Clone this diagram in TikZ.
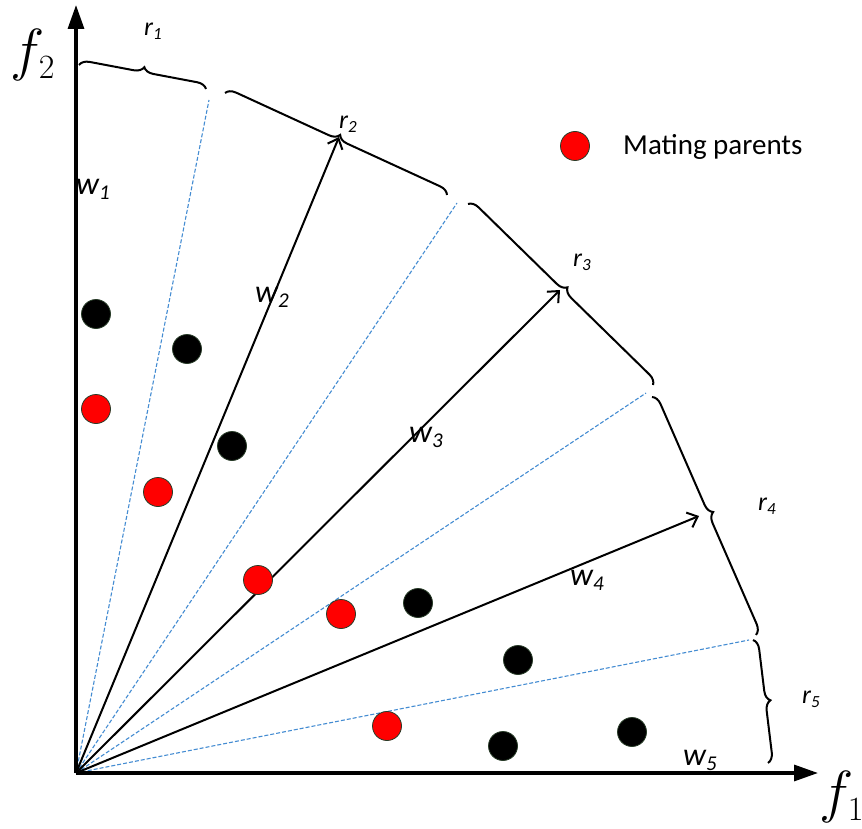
\documentclass[tikz,border=0pt]{standalone}
\usepackage{fix-cm}
\usepackage{fontspec}
\newfontfamily\carlito{Carlito}
\usetikzlibrary{arrows.meta,decorations.pathreplacing}
\definecolor{dblue}{RGB}{68,140,210}
\definecolor{dotedge}{RGB}{40,60,40}
\newcommand\wlab[1]{{\fontsize{32}{32}\selectfont\carlito\itshape w}{\fontsize{21}{21}\selectfont\carlito\itshape\raisebox{-5pt}{#1}}}
\newcommand\rlab[1]{{\fontsize{26}{26}\selectfont\carlito\itshape r}{\fontsize{17}{17}\selectfont\carlito\itshape\raisebox{-4pt}{#1}}}
\newcommand\flab[1]{{\fontsize{58}{58}\selectfont$f_{\hbox{\fontsize{34}{34}\selectfont #1}}$}}
\tikzset{
  axis/.style={line width=3.2pt, -{Triangle[length=24pt,width=16pt]}},
  warrow/.style={line width=2pt, -{Straight Barb[length=9pt,width=16pt,line width=2pt]}},
  sepline/.style={dblue, line width=1.1pt, dash pattern=on 4pt off 2pt},
  rbrace/.style={decorate, decoration={brace, amplitude=10pt}, line width=2pt},
  dot/.style={circle, inner sep=0pt, minimum size=29pt, draw=dotedge, line width=0.8pt},
  blackdot/.style={dot, fill=black},
  reddot/.style={dot, fill=red},
  lab/.style={inner sep=0pt}
}
\begin{document}
\begin{tikzpicture}[x=1pt,y=-1pt]
\useasboundingbox (0,0) rectangle (862,829);
% origin and ends
\coordinate (O) at (76,773);
\coordinate (ytip) at (76,5);
\coordinate (xtip) at (818,773);
\coordinate (w2t) at (339,137);
\coordinate (w3t) at (560,290);
\coordinate (w4t) at (699,516);
\coordinate (d1) at (209,100);
\coordinate (d2) at (457,203);
\coordinate (d3) at (646,393);
\coordinate (d4) at (749,640);
% separators
\draw[sepline] (O) -- (d1);
\draw[sepline] (O) -- (d2);
\draw[sepline] (O) -- (d3);
\draw[sepline] (O) -- (d4);
% weight vectors
\draw[warrow] (O) -- (w2t);
\draw[warrow] (O) -- (w3t);
\draw[warrow] (O) -- (w4t);
% axes
\draw[axis] (O) -- (ytip);
\draw[axis] (O) -- (xtip);
% braces
\coordinate (b1a) at (79,65);  \coordinate (b1b) at (206,89);
\coordinate (b2a) at (225,93); \coordinate (b2b) at (447,195);
\coordinate (b3a) at (468,204); \coordinate (b3b) at (653,385);
\coordinate (b4a) at (652,397); \coordinate (b4b) at (756,635);
\coordinate (b5a) at (753,640); \coordinate (b5b) at (768,763);
\draw[rbrace] (b1a) -- (b1b);
\draw[rbrace] (b2a) -- (b2b);
\draw[rbrace] (b3a) -- (b3b);
\draw[rbrace] (b4a) -- (b4b);
\draw[rbrace] (b5a) -- (b5b);
% labels
\node[lab] (f2) at (33,55) {\flab{2}};
\node[lab] (f1) at (842,797) {\flab{1}};
\node[lab] (r1) at (153,31) {\rlab{1}};
\node[lab] (r2) at (348,124) {\rlab{2}};
\node[lab] (r3) at (582,262) {\rlab{3}};
\node[lab] (r4) at (767,506) {\rlab{4}};
\node[lab] (r5) at (811,699) {\rlab{5}};
\node[lab] (w1) at (93,189) {\wlab{1}};
\node[lab] (w2) at (272,297) {\wlab{2}};
\node[lab] (w3) at (426,437) {\wlab{3}};
\node[lab] (w4) at (587,580) {\wlab{4}};
\node[lab] (w5) at (700,760) {\wlab{5}};
% points
\node[blackdot] (p1) at (96,314) {};
\node[blackdot] (p2) at (187,349) {};
\node[blackdot] (p3) at (232,446) {};
\node[blackdot] (p4) at (418,603) {};
\node[blackdot] (p5) at (518,660) {};
\node[blackdot] (p6) at (503,746) {};
\node[blackdot] (p7) at (632,732) {};
\node[reddot] (q1) at (96,409) {};
\node[reddot] (q2) at (158,492) {};
\node[reddot] (q3) at (258,580) {};
\node[reddot] (q4) at (341,614) {};
\node[reddot] (q5) at (387,726) {};
% legend
\node[reddot] (leg) at (575,146) {};
\node[lab, anchor=base west] (legtext) at (623,155) {\fontsize{29}{29}\selectfont\carlito Mating parents};
\end{tikzpicture}
\end{document}
